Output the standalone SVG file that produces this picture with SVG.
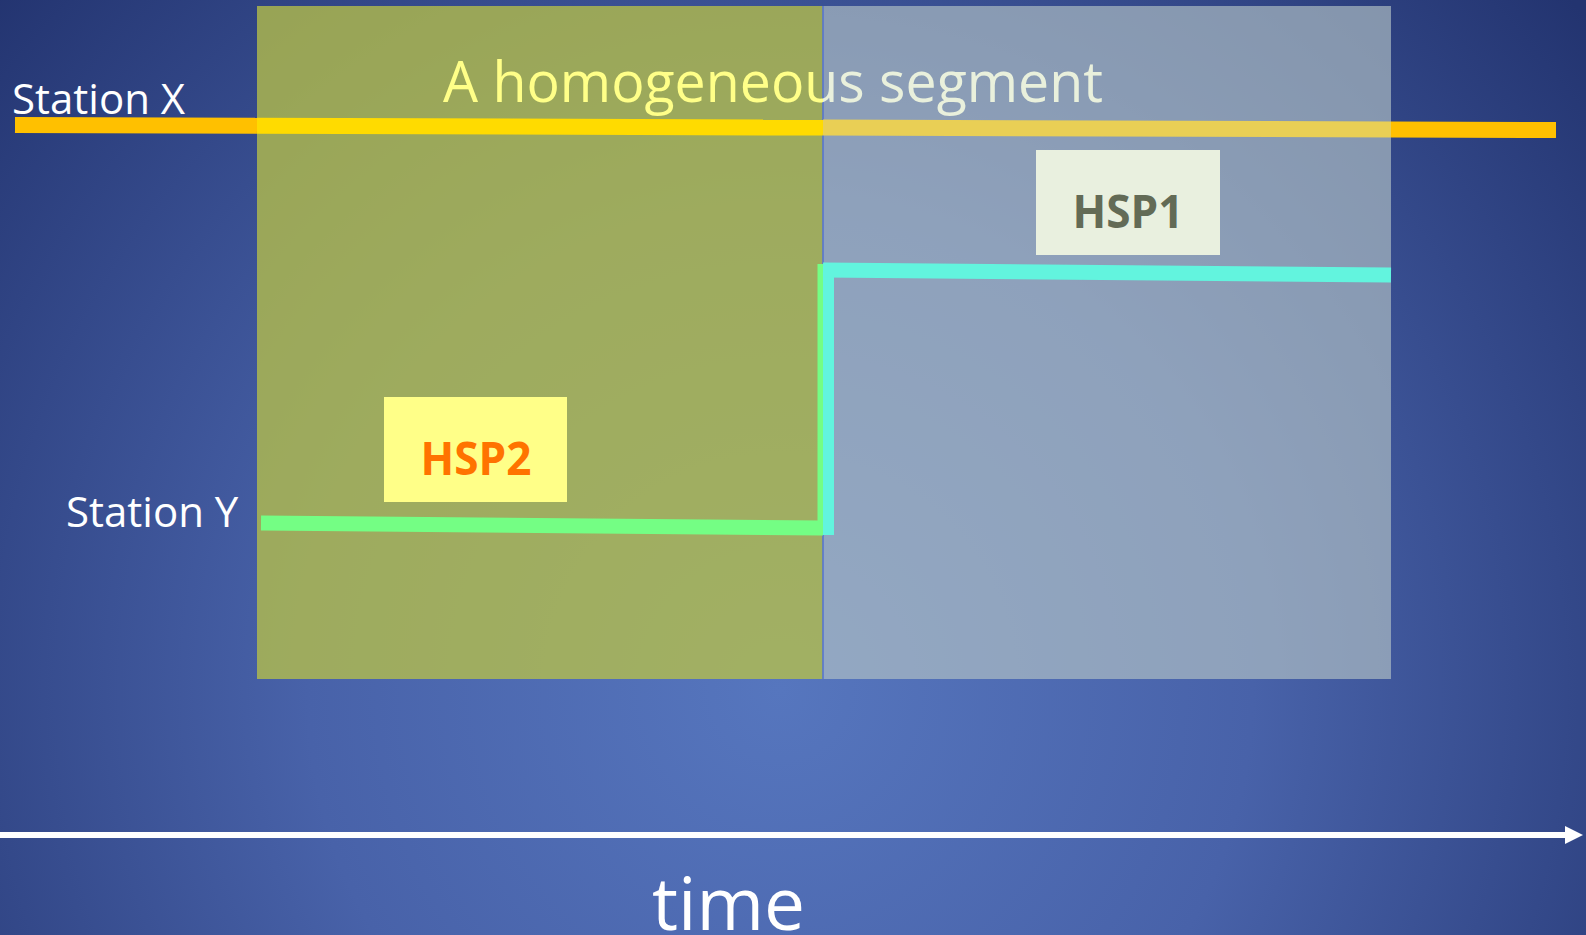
<svg xmlns="http://www.w3.org/2000/svg" width="1586" height="935" viewBox="0 0 1586 935">
  <style>
    .label { font-family: "Open Sans", "Liberation Sans", sans-serif; fill: #ffffff; }
    .tag { font-family: "Open Sans", "Liberation Sans", sans-serif; font-weight: bold; }
    .track { fill: none; stroke-linecap: butt; stroke-linejoin: miter; }
  </style>
  <defs>
    <radialGradient id="bg" gradientUnits="userSpaceOnUse" cx="780" cy="690" r="1050">
      <stop offset="0" stop-color="#5676BE"/>
      <stop offset="0.45" stop-color="#4862A9"/>
      <stop offset="1" stop-color="#233470"/>
    </radialGradient>
    <clipPath id="leftHalf"><rect x="0" y="0" width="823" height="935"/></clipPath>
    <clipPath id="rightHalf"><rect x="823" y="0" width="763" height="935"/></clipPath>
    <marker id="arrow" viewBox="0 0 18 18" refX="0" refY="9" markerWidth="18" markerHeight="18" markerUnits="userSpaceOnUse" orient="auto">
      <path d="M0,0 L18,9 L0,18 Z" fill="#ffffff"/>
    </marker>
  </defs>

  <!-- background -->
  <rect x="0" y="0" width="1586" height="935" fill="url(#bg)"/>

  <!-- homogeneous segment: two shaded halves -->
  <g id="segment">
    <rect x="257" y="6" width="566" height="673" fill="#B9C247" fill-opacity="0.76"/>
    <rect x="823" y="6" width="568" height="673" fill="#B3C2C6" fill-opacity="0.66"/>
    <line x1="823" y1="6" x2="823" y2="679" stroke="#5372D2" stroke-width="1.5"/>
  </g>

  <!-- station tracks -->
  <g id="connectors">
    <!-- Station X -->
    <path class="track" d="M15,125 L257,125.8" stroke="#FFC000" stroke-width="16"/>
    <path class="track" d="M257,125.8 L823,127.6" stroke="#FFDB00" stroke-width="16"/>
    <path class="track" d="M823,127.6 L1391,129.4" stroke="#E9CF55" stroke-width="16"/>
    <path class="track" d="M1391,129.4 L1556,130" stroke="#FFC000" stroke-width="16"/>
    <!-- Station Y, before the break -->
    <path class="track" d="M261,523 L823,528" stroke="#74FE84" stroke-width="15"/>
    <path class="track" d="M820.5,535 L820.5,264" stroke="#74FE84" stroke-width="6"/>
    <!-- Station Y, after the break -->
    <path class="track" d="M828.5,535 L828.5,271" stroke="#62F4DE" stroke-width="11"/>
    <path class="track" d="M823,270 L1391,275" stroke="#62F4DE" stroke-width="15"/>
  </g>

  <g id="station-x">
    <text class="label" x="12" y="114" font-size="42">Station X</text>
  </g>
  <g id="station-y">
    <text class="label" x="66" y="527" font-size="42">Station Y</text>
  </g>

  <g id="segment-title" font-family="Open Sans, Liberation Sans, sans-serif" font-size="56">
    <text x="443" y="102" fill="#FFFF88" textLength="660" lengthAdjust="spacingAndGlyphs" clip-path="url(#leftHalf)">A homogeneous segment</text>
    <text x="443" y="102" fill="#E9F0DC" textLength="660" lengthAdjust="spacingAndGlyphs" clip-path="url(#rightHalf)">A homogeneous segment</text>
  </g>

  <g id="hsp1">
    <rect x="1036" y="150" width="184" height="105" fill="#E9F0DF"/>
    <text class="tag" x="1128" y="228" font-size="46" fill="#636B56" text-anchor="middle" textLength="111" lengthAdjust="spacingAndGlyphs">HSP1</text>
  </g>

  <g id="hsp2">
    <rect x="384" y="397" width="183" height="105" fill="#FFFF88"/>
    <text class="tag" x="476" y="475" font-size="46" fill="#FF7300" text-anchor="middle" textLength="111" lengthAdjust="spacingAndGlyphs">HSP2</text>
  </g>

  <g id="time-axis">
    <line x1="0" y1="835" x2="1565" y2="835" stroke="#ffffff" stroke-width="6" marker-end="url(#arrow)"/>
    <text class="label" x="652" y="930" font-size="73">time</text>
  </g>
</svg>
